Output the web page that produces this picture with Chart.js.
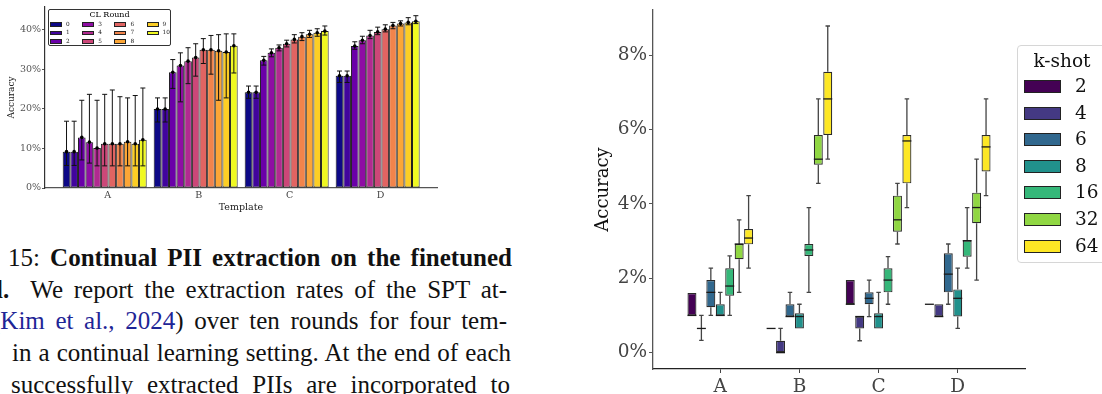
<!DOCTYPE html>
<html>
<head>
<meta charset="utf-8">
<script src="https://cdn.jsdelivr.net/npm/chart.js@4.4.1/dist/chart.umd.min.js"></script>
<style>
  body { margin: 0; width: 1102px; height: 394px; overflow: hidden; position: relative; background: #fff; }
  canvas { position: absolute; }
  .cap { position: absolute; font-family: "Liberation Serif", "Times New Roman", serif; font-size: 25px; line-height: 32px;
         white-space: nowrap; text-align: justify; text-align-last: justify; color: #111; }
  .cite { color: #1e2596; }
  .lg { position: absolute; background: #fff; font-family: "DejaVu Serif", serif; }
  .lg .it { position: absolute; }
  .lg .sw { position: absolute; box-sizing: border-box; border: 1px solid #222; }
</style>
</head>
<body>
<canvas id="roundChart" width="445" height="222" style="left:0;top:0"></canvas>
<canvas id="shotChart" width="512" height="394" style="left:590px;top:0"></canvas>

<div id="roundLegend" class="lg" style="left:48px;top:9px;width:121px;height:35px;border:1px solid #333;border-radius:2px">
  <div style="position:absolute;left:0;width:121px;top:0;text-align:center;font-size:8px;line-height:10px">CL Round</div>
</div>
<div id="shotLegend" class="lg" style="left:1017px;top:45px;width:110px;height:216px;border:1px solid #d6d6d6;border-radius:4px">
  <div style="position:absolute;left:0;width:88px;top:3px;text-align:center;font-size:18.5px;line-height:24px;color:#111">k-shot</div>
</div>

<div class="cap" style="top:242px;left:8px;width:504px">15: <b>Continual PII extraction on the finetuned</b></div>
<div class="cap" style="top:274px;left:-4px;width:511px"><b>l.</b>&nbsp; We report the extraction rates of the SPT at-</div>
<div class="cap" style="top:305px;left:-8px;width:515px">(<span class="cite">Kim et al., 2024</span>) over ten rounds for four tem-</div>
<div class="cap" style="top:337px;left:12px;width:499px">in a continual learning setting. At the end of each</div>
<div class="cap" style="top:369px;left:11px;width:499px">successfully extracted PIIs are incorporated to</div>

<script>
// left panel: accuracy per CL round, one array per template (%)
var templates = ['A', 'B', 'C', 'D'];
var rounds = ['0', '1', '2', '3', '4', '5', '6', '7', '8', '9', '10'];
var roundColors = ['#0d0887', '#41049d', '#6a00a8', '#8f0da4', '#b12a90', '#cc4778',
                   '#e16462', '#f2844b', '#fca636', '#fcce25', '#f0f921'];

var accA = [9.2, 9.2, 12.8, 11.6, 10.1, 11.2, 11.2, 11.2, 11.7, 11.2, 12.2];
var lowA = [5.7, 5.7, 7.1, 6.3, 5.6, 5.6, 5.6, 5.6, 5.6, 5.6, 5.6];
var highA = [16.9, 16.9, 22.2, 23.7, 22.2, 23.7, 24.8, 23.1, 22.8, 23.4, 25.3];

var accB = [20.0, 20.0, 29.3, 31.0, 32.1, 33.0, 35.0, 35.0, 34.7, 34.4, 36.0];
var lowB = [16.7, 16.7, 25.2, 21.8, 26.4, 28.3, 31.5, 28.8, 22.2, 22.8, 29.1];
var highB = [22.8, 22.8, 32.5, 34.2, 35.5, 36.5, 37.8, 38.6, 38.8, 39.0, 39.0];

var accC = [24.2, 24.2, 32.3, 34.2, 35.5, 36.5, 37.6, 38.3, 38.9, 39.3, 39.7];
var lowC = [22.7, 22.7, 31.1, 33.2, 34.7, 35.7, 36.7, 37.3, 38.1, 38.4, 38.7];
var highC = [25.8, 25.8, 33.3, 35.2, 36.2, 37.4, 38.8, 39.3, 39.9, 40.3, 41.0];

var accD = [28.4, 28.4, 35.9, 37.4, 38.6, 39.5, 40.2, 41.1, 41.6, 41.9, 42.2];
var lowD = [26.7, 26.7, 35.1, 36.5, 37.8, 38.8, 39.5, 40.3, 41.0, 41.3, 41.6];
var highD = [29.6, 29.6, 37.0, 38.4, 39.9, 40.7, 41.3, 41.9, 42.3, 43.1, 43.6];

var roundTicks = [0, 10, 20, 30, 40];

// right panel: box stats [min, q1, median, q3, max] per k-shot (%)
var kShots = ['2', '4', '6', '8', '16', '32', '64'];
var shotColors = ['#440154', '#443983', '#31688e', '#21918c', '#35b779', '#90d743', '#fde725'];

var boxA = [[1.0, 1.0, 1.0, 1.6, 1.6], [0.33, 0.65, 0.65, 0.65, 1.0], [1.0, 1.22, 1.62, 1.95, 2.27],
            [1.0, 1.0, 1.0, 1.3, 1.62], [1.0, 1.53, 1.79, 2.27, 2.6], [1.62, 2.51, 2.92, 2.92, 3.57],
            [2.27, 2.91, 3.08, 3.32, 4.22]];
var boxB = [[0.65, 0.65, 0.65, 0.65, 0.65], [0, 0, 0, 0.32, 0.65], [0.97, 0.97, 0.97, 1.3, 1.62],
            [0.65, 0.65, 0.97, 1.06, 1.3], [1.62, 2.6, 2.76, 2.92, 3.9], [4.55, 5.05, 5.2, 5.85, 6.82],
            [5.2, 5.85, 6.82, 7.55, 8.78]];
var boxC = [[1.3, 1.3, 1.3, 1.95, 1.95], [0.32, 0.65, 0.97, 0.97, 0.97], [0.97, 1.3, 1.46, 1.62, 1.95],
            [0.65, 0.65, 0.97, 1.06, 1.62], [1.3, 1.62, 1.95, 2.27, 2.58], [2.92, 3.25, 3.57, 4.22, 4.55],
            [3.9, 4.55, 5.69, 5.85, 6.82]];
var boxD = [[1.3, 1.3, 1.3, 1.3, 1.3], [0.97, 0.97, 0.97, 1.3, 1.3], [1.3, 1.62, 2.11, 2.67, 2.92],
            [0.65, 0.97, 1.46, 1.7, 2.27], [2.27, 2.58, 3.01, 3.01, 3.9], [1.95, 3.48, 3.9, 4.3, 5.2],
            [4.22, 4.87, 5.53, 5.85, 6.82]];

var shotTicks = [0, 2, 4, 6, 8];

Chart.defaults.font.family = '"DejaVu Serif", serif';

// error bars + marker dot on top of each bar
var errorBars = {
    id: 'errorBars',
    afterDatasetsDraw: function (chart) {
        var ctx = chart.ctx;
        var y = chart.scales.y;
        chart.data.datasets.forEach(function (ds, di) {
            chart.getDatasetMeta(di).data.forEach(function (bar, i) {
                var x = bar.x;
                var lo = y.getPixelForValue(ds.errLow[i]);
                var hi = y.getPixelForValue(ds.errHigh[i]);
                ctx.save();
                ctx.strokeStyle = '#111';
                ctx.lineWidth = 1;
                ctx.beginPath();
                ctx.moveTo(x, lo); ctx.lineTo(x, hi);
                ctx.moveTo(x - 2.5, lo); ctx.lineTo(x + 2.5, lo);
                ctx.moveTo(x - 2.5, hi); ctx.lineTo(x + 2.5, hi);
                ctx.stroke();
                ctx.fillStyle = '#000';
                ctx.beginPath();
                ctx.arc(x, y.getPixelForValue(ds.data[i].y), 1.8, 0, Math.PI * 2);
                ctx.fill();
                ctx.restore();
            });
        });
    }
};

// whiskers and medians for the floating-bar boxes
var boxWhiskers = {
    id: 'boxWhiskers',
    afterDatasetsDraw: function (chart) {
        var ctx = chart.ctx;
        var y = chart.scales.y;
        chart.data.datasets.forEach(function (ds, di) {
            chart.getDatasetMeta(di).data.forEach(function (bar, i) {
                var s = ds.stats[i];
                var x = bar.x, half = bar.width / 2, cap = bar.width / 4;
                ctx.save();
                ctx.strokeStyle = '#444';
                ctx.lineWidth = 1.3;
                ctx.beginPath();
                if (s[4] > s[3]) {
                    ctx.moveTo(x, y.getPixelForValue(s[3])); ctx.lineTo(x, y.getPixelForValue(s[4]));
                    ctx.moveTo(x - cap, y.getPixelForValue(s[4])); ctx.lineTo(x + cap, y.getPixelForValue(s[4]));
                }
                if (s[0] < s[1]) {
                    ctx.moveTo(x, y.getPixelForValue(s[1])); ctx.lineTo(x, y.getPixelForValue(s[0]));
                    ctx.moveTo(x - cap, y.getPixelForValue(s[0])); ctx.lineTo(x + cap, y.getPixelForValue(s[0]));
                }
                ctx.stroke();
                ctx.strokeStyle = '#1a1a1a';
                ctx.beginPath();
                ctx.moveTo(x - half, y.getPixelForValue(s[2])); ctx.lineTo(x + half, y.getPixelForValue(s[2]));
                ctx.stroke();
                ctx.restore();
            });
        });
    }
};

function noPad(scale) {
    scale.paddingTop = 0; scale.paddingBottom = 0;
    scale.paddingLeft = 0; scale.paddingRight = 0;
}

// ---- left chart
var accByT = [accA, accB, accC, accD];
var lowByT = [lowA, lowB, lowC, lowD];
var highByT = [highA, highB, highC, highD];
var roundSets = [];
rounds.forEach(function (r, ri) {
    roundSets.push({
        label: r,
        data: templates.map(function (t, ti) { return {x: ti, y: accByT[ti][ri]}; }),
        errLow: templates.map(function (t, ti) { return lowByT[ti][ri]; }),
        errHigh: templates.map(function (t, ti) { return highByT[ti][ri]; }),
        backgroundColor: roundColors[ri],
        borderColor: '#1a1a1a',
        borderWidth: 1,
        borderSkipped: false,
        categoryPercentage: 0.923,
        barPercentage: 1
    });
});

new Chart(document.getElementById('roundChart'), {
    type: 'bar',
    data: {datasets: roundSets},
    options: {
        responsive: false,
        animation: false,
        layout: {padding: {left: 0, top: 7, right: 8, bottom: 0}},
        plugins: {legend: {display: false}, tooltip: {enabled: false}},
        scales: {
            x: {
                type: 'linear', offset: false, min: -0.656, max: 3.652,
                afterBuildTicks: function (s) { s.ticks = templates.map(function (t, i) { return {value: i}; }); },
                afterFit: function (s) { s.height = 34; noPad(s); },
                ticks: {callback: function (v) { return templates[v]; }, color: '#444', font: {size: 9.5}, padding: 2, maxRotation: 0, labelOffset: 3},
                grid: {display: true, offset: false, drawOnChartArea: false, drawTicks: false},
                border: {color: '#555', width: 1.2},
                title: {display: true, text: 'Template', color: '#222', font: {size: 9.5}, padding: {top: 0, bottom: 9}}
            },
            y: {
                min: 0, max: 45.8,
                afterBuildTicks: function (s) { s.ticks = roundTicks.map(function (v) { return {value: v}; }); },
                afterFit: function (s) { s.width = 45; noPad(s); },
                ticks: {callback: function (v) { return v + '%'; }, color: '#555', font: {size: 9.5}, padding: 1},
                grid: {drawOnChartArea: false, tickLength: 3, color: '#555'},
                border: {color: '#333', width: 1.2},
                title: {display: true, text: 'Accuracy', color: '#222', font: {size: 9}, padding: {top: 6.6, bottom: 0}}
            }
        }
    },
    plugins: [errorBars]
});

// ---- right chart
var boxByT = [boxA, boxB, boxC, boxD];
var shotSets = [];
kShots.forEach(function (k, ki) {
    shotSets.push({
        label: k,
        data: templates.map(function (t, ti) { return {x: ti, y: [boxByT[ti][ki][1], boxByT[ti][ki][3]]}; }),
        stats: templates.map(function (t, ti) { return boxByT[ti][ki]; }),
        backgroundColor: shotColors[ki],
        borderColor: '#2a2a2a',
        borderWidth: 1.2,
        borderSkipped: false,
        categoryPercentage: 0.835,
        barPercentage: 0.95
    });
});

new Chart(document.getElementById('shotChart'), {
    type: 'bar',
    data: {datasets: shotSets},
    options: {
        responsive: false,
        animation: false,
        layout: {padding: {left: 0, top: 10, right: 77, bottom: 0}},
        plugins: {legend: {display: false}, tooltip: {enabled: false}},
        scales: {
            x: {
                type: 'linear', offset: false, min: -0.85, max: 3.85,
                afterBuildTicks: function (s) { s.ticks = templates.map(function (t, i) { return {value: i}; }); },
                afterFit: function (s) { s.height = 25; noPad(s); },
                ticks: {callback: function (v) { return templates[v]; }, color: '#444', font: {size: 18.5}, padding: 3, maxRotation: 0},
                grid: {offset: false, drawOnChartArea: false, tickLength: 4, color: '#444'},
                border: {color: '#222', width: 1.3}
            },
            y: {
                min: -0.44, max: 9.21,
                afterBuildTicks: function (s) { s.ticks = shotTicks.map(function (v) { return {value: v}; }); },
                afterFit: function (s) { s.width = 63; noPad(s); },
                ticks: {callback: function (v) { return v + '%'; }, color: '#444', font: {size: 18.5}, padding: 2},
                grid: {drawOnChartArea: false, tickLength: 4, color: '#555'},
                border: {color: '#555', width: 1.3},
                title: {display: true, text: 'Accuracy', color: '#111', font: {size: 18}, padding: {top: 3, bottom: 0}}
            }
        }
    },
    plugins: [boxWhiskers]
});

// ---- html legends
var rl = document.getElementById('roundLegend');
rounds.forEach(function (r, i) {
    var col = Math.floor(i / 3), row = i % 3;
    var sw = document.createElement('div');
    sw.className = 'sw';
    sw.style.cssText = 'left:' + (1 + col * 32.2) + 'px;top:' + (12 + row * 8.7) + 'px;width:12px;height:4.5px;background:' + roundColors[i];
    rl.appendChild(sw);
    var lb = document.createElement('div');
    lb.className = 'it';
    lb.textContent = r;
    lb.style.cssText = 'left:' + (17 + col * 32.2) + 'px;top:' + (10.5 + row * 8.7) + 'px;font-size:5.8px;line-height:7px;color:#222';
    rl.appendChild(lb);
});

var sl = document.getElementById('shotLegend');
kShots.forEach(function (k, i) {
    var sw = document.createElement('div');
    sw.className = 'sw';
    sw.style.cssText = 'left:6px;top:' + (34 + i * 26.6) + 'px;width:37px;height:13px;background:' + shotColors[i];
    sl.appendChild(sw);
    var lb = document.createElement('div');
    lb.className = 'it';
    lb.textContent = k;
    lb.style.cssText = 'left:57px;top:' + (28 + i * 26.6) + 'px;font-size:18.5px;line-height:24px;color:#111';
    sl.appendChild(lb);
});
</script>
</body>
</html>
